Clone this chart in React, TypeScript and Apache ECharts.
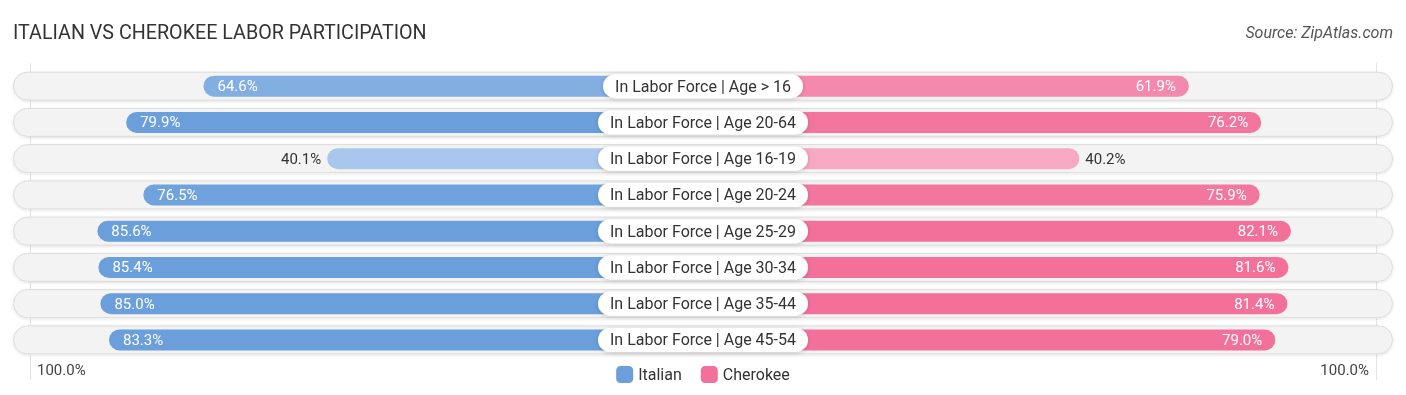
import React, { useEffect, useRef } from "react";
import * as echarts from "echarts";

const categories = [
  "In Labor Force | Age > 16",
  "In Labor Force | Age 20-64",
  "In Labor Force | Age 16-19",
  "In Labor Force | Age 20-24",
  "In Labor Force | Age 25-29",
  "In Labor Force | Age 30-34",
  "In Labor Force | Age 35-44",
  "In Labor Force | Age 45-54",
];
const italian = [64.6, 79.9, 40.1, 76.5, 85.6, 85.4, 85.0, 83.3];
const cherokee = [61.9, 76.2, 40.2, 75.9, 82.1, 81.6, 81.4, 79.0];
const seriesNames = ["Italian", "Cherokee"];
const edgeTickLabels = ["100.0%", "100.0%"];
const titleText = "ITALIAN VS CHEROKEE LABOR PARTICIPATION";
const sourceText = "Source: ZipAtlas.com";

// layout constants (not data)
const CENTER_GAP = 34.3; // half-width of centre label zone, in axis units
const AXIS_EXTENT = 137;
const BG_EXTENT = 136.6;

const blueLight = [169, 199, 236];
const blueStrong = [106, 159, 220];
const pinkLight = [247, 168, 195];
const pinkStrong = [242, 112, 154];

function mix(a: number[], b: number[], t: number) {
  const c = a.map((x, i) => Math.round(x + (b[i] - x) * t));
  return `rgb(${c[0]},${c[1]},${c[2]})`;
}
function shade(v: number, light: number[], strong: number[]) {
  const t = Math.max(0, Math.min(1, (v - 40) / 40));
  return mix(light, strong, t);
}

export default function App() {
  const ref = useRef<HTMLDivElement>(null);

  useEffect(() => {
    if (!ref.current) return;
    const chart = echarts.init(ref.current, undefined, { renderer: "svg" });
    const font = "Roboto, 'Noto Sans', sans-serif";

    const italianData = italian.map((v) => {
      const inside = v >= 50;
      return {
        value: -(v + CENTER_GAP),
        itemStyle: { color: shade(v, blueLight, blueStrong) },
        label: inside
          ? { position: "insideLeft", distance: 14, color: "#ffffff" }
          : { position: "left", distance: 6, color: "#333333" },
      };
    });
    const cherokeeData = cherokee.map((v) => {
      const inside = v >= 50;
      return {
        value: v + CENTER_GAP,
        itemStyle: { color: shade(v, pinkLight, pinkStrong) },
        label: inside
          ? { position: "insideRight", distance: 13, color: "#ffffff" }
          : { position: "right", distance: 6, color: "#333333" },
      };
    });

    const option: any = {
      animation: false,
      title: {
        text: titleText,
        left: 13,
        top: 22,
        padding: 0,
        textStyle: { fontFamily: font, fontSize: 19.7, fontWeight: "normal", color: "#333333" },
      },
      legend: {
        data: seriesNames,
        left: "center",
        top: 361,
        itemWidth: 17,
        itemHeight: 17,
        itemGap: 19,
        icon: "roundRect",
        textStyle: { fontFamily: font, fontSize: 16, color: "#333333" },
      },
      grid: { left: 11, right: 11, top: 68, bottom: 37 },
      xAxis: { type: "value", min: -AXIS_EXTENT, max: AXIS_EXTENT, show: false },
      yAxis: [
        { type: "category", data: categories, inverse: true, show: false },
        { type: "category", data: categories, inverse: true, show: false },
        { type: "category", data: categories, inverse: true, show: false },
      ],
      graphic: [
        { type: "line", shape: { x1: 30.5, y1: 63, x2: 30.5, y2: 380 }, style: { stroke: "#e4e4e4", lineWidth: 1 }, z: -10 },
        { type: "line", shape: { x1: 1376.5, y1: 63, x2: 1376.5, y2: 380 }, style: { stroke: "#e4e4e4", lineWidth: 1 }, z: -10 },
        {
          type: "text",
          right: 13,
          top: 24,
          style: { text: sourceText, font: `italic 16px ${font}`, fill: "#555555" },
        },
        {
          type: "text",
          left: 37,
          top: 362,
          style: { text: edgeTickLabels[0], font: `15px ${font}`, fill: "#444444" },
        },
        {
          type: "text",
          right: 37,
          top: 362,
          style: { text: edgeTickLabels[1], font: `15px ${font}`, fill: "#444444" },
        },
      ],
      series: [
        {
          name: "bgBase",
          type: "bar",
          yAxisIndex: 0,
          stack: "bg",
          stackStrategy: "all",
          barWidth: 29,
          silent: true,
          clip: false,
          data: categories.map(() => -BG_EXTENT),
          itemStyle: { color: "rgba(0,0,0,0)" },
          z: 1,
        },
        {
          name: "bgPill",
          type: "bar",
          yAxisIndex: 0,
          stack: "bg",
          stackStrategy: "all",
          barWidth: 29,
          silent: true,
          clip: false,
          data: categories.map(() => 2 * BG_EXTENT),
          itemStyle: {
            color: "#f3f3f3",
            borderColor: "#dcdcdc",
            borderWidth: 1,
            borderRadius: 14.5,
            shadowColor: "rgba(0,0,0,0.12)",
            shadowBlur: 3,
            shadowOffsetY: 1,
          },
          z: 1,
        },
        {
          name: seriesNames[0],
          type: "bar",
          yAxisIndex: 1,
          stack: "d",
          barWidth: 21,
          data: italianData,
          itemStyle: { color: "rgb(106,159,220)", borderRadius: [10.5, 0, 0, 10.5] },
          label: {
            show: true,
            fontFamily: font,
            fontSize: 15,
            formatter: (p: any) => `${italian[p.dataIndex].toFixed(1)}%`,
          },
          z: 3,
        },
        {
          name: seriesNames[1],
          type: "bar",
          yAxisIndex: 1,
          stack: "d",
          barWidth: 21,
          data: cherokeeData,
          itemStyle: { color: "rgb(242,112,154)", borderRadius: [0, 10.5, 10.5, 0] },
          label: {
            show: true,
            fontFamily: font,
            fontSize: 15,
            formatter: (p: any) => `${cherokee[p.dataIndex].toFixed(1)}%`,
          },
          z: 3,
        },
        {
          name: "centerLabels",
          type: "scatter",
          yAxisIndex: 2,
          symbolSize: 0,
          silent: true,
          itemStyle: { opacity: 1 },
          data: categories.map((c) => [0, c]),
          label: {
            show: true,
            position: "inside",
            formatter: (p: any) => categories[p.dataIndex],
            fontFamily: font,
            fontSize: 16,
            color: "#333333",
            backgroundColor: "#ffffff",
            borderRadius: 12,
            padding: [3, 12, 3, 12],
            lineHeight: 18,
            shadowColor: "rgba(0,0,0,0.18)",
            shadowBlur: 4,
            shadowOffsetY: 1,
          },
          z: 6,
        },
      ],
    };
    chart.setOption(option);
    return () => chart.dispose();
  }, []);

  return (
    <div
      ref={ref}
      style={{ position: "fixed", left: 0, top: 0, width: 1406, height: 395 }}
    />
  );
}
